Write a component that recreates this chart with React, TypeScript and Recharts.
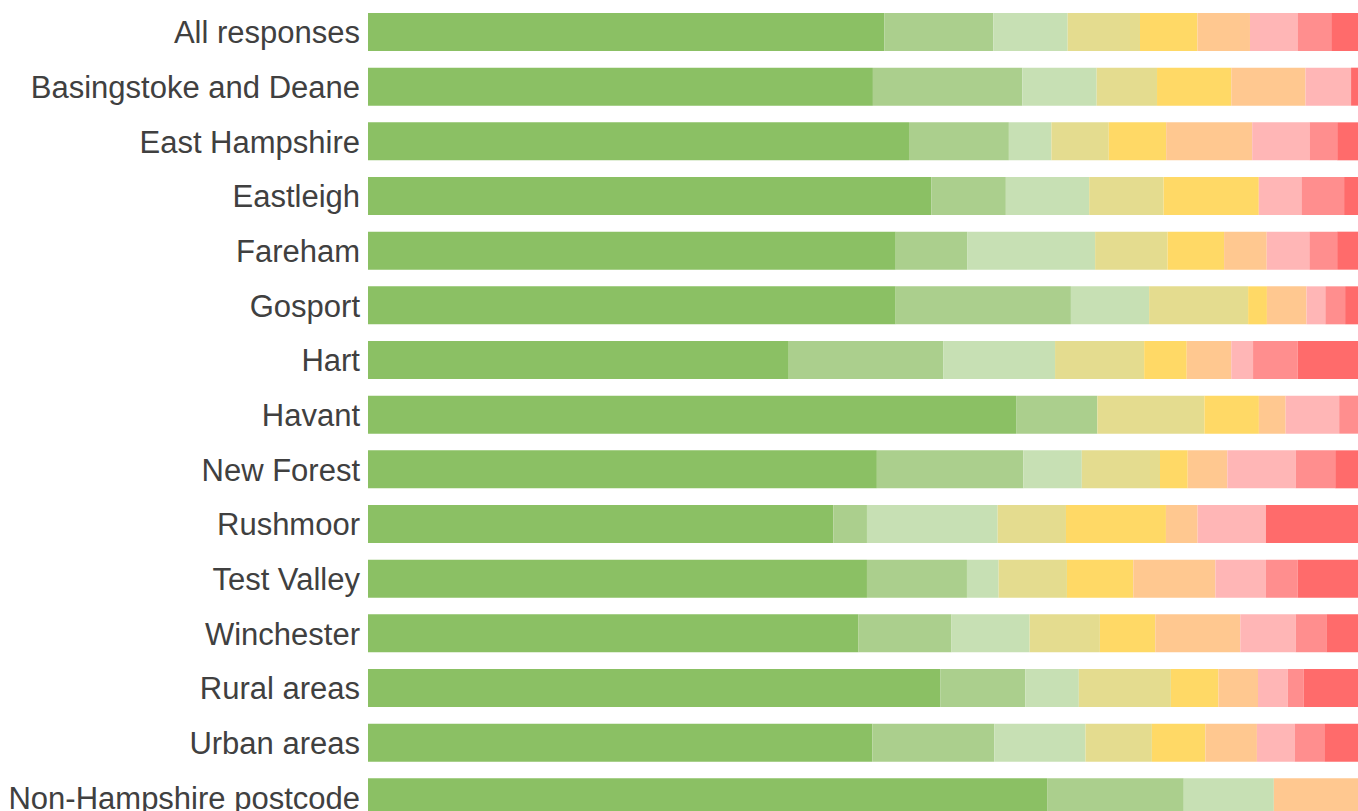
import React from "react";
import { BarChart, Bar, XAxis, YAxis } from "recharts";

const categories = [
  "All responses",
  "Basingstoke and Deane",
  "East Hampshire",
  "Eastleigh",
  "Fareham",
  "Gosport",
  "Hart",
  "Havant",
  "New Forest",
  "Rushmoor",
  "Test Valley",
  "Winchester",
  "Rural areas",
  "Urban areas",
  "Non-Hampshire postcode",
];

// share of responses (%) per level, greenest first
const level1 = [52.1, 51.0, 54.7, 56.8, 53.2, 53.3, 42.5, 65.4, 51.4, 47.0, 50.4, 49.6, 57.8, 50.9, 68.6];
const level2 = [11.0, 15.1, 10.1, 7.5, 7.2, 17.7, 15.6, 8.2, 14.8, 3.4, 10.1, 9.4, 8.6, 12.3, 13.8];
const level3 = [7.5, 7.5, 4.3, 8.4, 12.9, 7.9, 11.3, 0, 5.9, 13.2, 3.2, 7.9, 5.4, 9.2, 9.1];
const level4 = [7.3, 6.1, 5.8, 7.5, 7.3, 10.0, 9.0, 10.8, 7.9, 6.9, 6.9, 7.1, 9.3, 6.7, 0];
const level5 = [5.8, 7.5, 5.8, 9.6, 5.7, 1.9, 4.3, 5.5, 2.8, 10.1, 6.7, 5.6, 4.8, 5.4, 0];
const level6 = [5.3, 7.5, 8.7, 0, 4.3, 4.0, 4.5, 2.7, 4.0, 3.2, 8.3, 8.6, 4.0, 5.2, 8.5];
const level7 = [4.8, 4.6, 5.8, 4.3, 4.3, 1.9, 2.2, 5.4, 6.9, 6.9, 5.1, 5.6, 3.0, 3.8, 0];
const level8 = [3.4, 0, 2.8, 4.3, 2.8, 2.0, 4.5, 1.9, 4.0, 0, 3.2, 3.1, 1.6, 3.0, 0];
const level9 = [2.7, 0.7, 2.1, 1.4, 2.1, 1.3, 6.1, 0, 2.3, 9.3, 6.1, 3.2, 5.5, 3.4, 0];

const levels = [level1, level2, level3, level4, level5, level6, level7, level8, level9];
const colors = [
  "#8bc064",
  "#abcf8d",
  "#c7e0b4",
  "#e4dc8f",
  "#ffd966",
  "#ffc890",
  "#ffb6b6",
  "#ff8e8e",
  "#ff6b6b",
];

const data = categories.map((name, i) => {
  const row: Record<string, string | number> = { name };
  levels.forEach((lv, j) => {
    row["l" + (j + 1)] = lv[i];
  });
  return row;
});

export default function App() {
  return (
    <div style={{ position: "absolute", left: 0, top: 0, width: 1358, height: 811, overflow: "hidden" }}>
      <BarChart
        width={1358}
        height={825}
        data={data}
        layout="vertical"
        stackOffset="expand"
        margin={{ top: 5, right: 0, bottom: 0, left: 0 }}
      >
        <XAxis type="number" domain={[0, 1]} hide />
        <YAxis
          type="category"
          dataKey="name"
          width={368}
          interval={0}
          tickLine={false}
          axisLine={false}
          tick={{ fill: "#404040", fontSize: 31, fontFamily: "Liberation Sans, Arial, sans-serif" }}
        />
        {colors.map((c, j) => (
          <Bar key={j} dataKey={"l" + (j + 1)} stackId="a" fill={c} barSize={38} isAnimationActive={false} />
        ))}
      </BarChart>
    </div>
  );
}
